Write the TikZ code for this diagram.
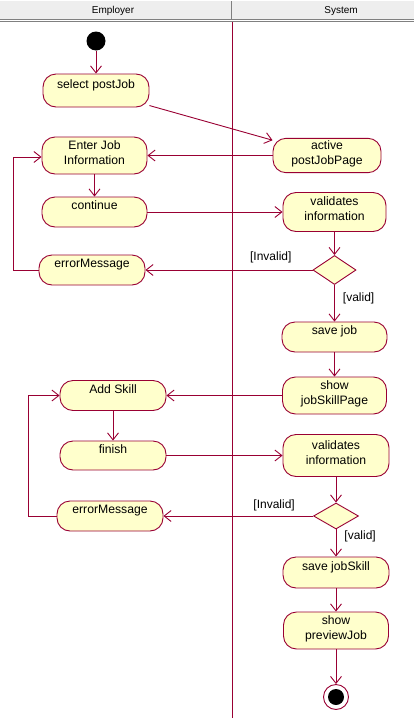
\documentclass[tikz,border=0pt]{standalone}
\usepackage{fontspec}
\setmainfont{Liberation Sans}
\usetikzlibrary{shapes.geometric, arrows.meta}
\definecolor{rosered}{HTML}{990033}
\definecolor{roseyellow}{HTML}{FFFFCC}
\definecolor{headgray}{HTML}{EEEEEE}
\definecolor{headline}{HTML}{808080}

\begin{document}
\begin{tikzpicture}[
    x=1pt, y=-1pt,
    action/.style={rectangle, draw=rosered, fill=roseyellow, line width=0.9pt, rounded corners=13pt, minimum width=105pt, minimum height=30pt, align=center, inner sep=2pt, font=\fontsize{12.2}{15}\selectfont},
    oneline/.style={text height=8.8pt, text depth=13pt},
    twoline/.style={text depth=6.5pt},
    decision/.style={diamond, draw=rosered, fill=roseyellow, line width=0.9pt, minimum width=43pt, minimum height=29pt, inner sep=0pt},
    guard/.style={inner sep=1pt, font=\fontsize{12}{14}\selectfont},
    arrow/.style={-{Straight Barb[length=7pt,width=11pt]}, draw=rosered, line width=0.9pt},
    lanehead/.style={inner sep=1pt, font=\fontsize{10}{12}\selectfont},
    ]
    \useasboundingbox (0,0) rectangle (414,718);

    % Swimlane header
    \fill[headgray] (0,1) rectangle (414,19);
    \draw[headline, line width=1pt] (0,19.5) -- (414,19.5);
    \draw[headline, line width=1pt] (0,21.5) -- (414,21.5);
    \draw[headline, line width=1pt] (231.5,1) -- (231.5,19);
    \node[lanehead] (employer) at (113,11) {Employer};
    \node[lanehead] (system) at (341,11) {System};
    \draw[rosered, line width=0.9pt] (232,22) -- (232,718);

    % Employer lane
    \node[circle, fill=black, minimum size=19pt, inner sep=0pt] (start) at (96,41) {};
    \node[action, oneline, minimum width=106pt, minimum height=33pt] (select) at (96,90.5) {select postJob};
    \node[action, twoline, minimum height=37pt] (enter) at (94.5,155.5) {Enter Job\\Information};
    \node[action, oneline] (cont) at (94.5,212) {continue};
    \node[action, oneline, minimum width=106pt] (err1) at (92,270) {errorMessage};
    \node[action, oneline, minimum width=106pt] (addskill) at (113,395.5) {Add Skill};
    \node[action, oneline, minimum width=106pt, minimum height=29pt] (finish) at (113,455.5) {finish};
    \node[action, oneline, minimum width=106pt] (err2) at (110,516) {errorMessage};

    % System lane
    \node[action, twoline, minimum width=108pt, minimum height=33pt] (active) at (327,155.5) {active\\postJobPage};
    \node[action, twoline, minimum width=103pt, minimum height=39pt] (valid1) at (334.5,212) {validates\\information};
    \node[decision] (dec1) at (334.5,270) {};
    \node[action, oneline] (savejob) at (334.5,337) {save job};
    \node[action, twoline, minimum width=104pt, minimum height=37pt] (skillpage) at (334.5,395.5) {show\\jobSkillPage};
    \node[action, twoline, minimum width=106pt, minimum height=42pt] (valid2) at (336,455.5) {validates\\information};
    \node[decision, minimum width=45pt, minimum height=26pt] (dec2) at (336,516) {};
    \node[action, oneline, minimum width=106pt, minimum height=31pt] (saveskill) at (336,572.5) {save jobSkill};
    \node[action, twoline, minimum height=37pt] (preview) at (336,630.5) {show\\previewJob};
    \node[circle, draw=rosered, fill=white, line width=0.9pt, minimum size=25pt, inner sep=0pt] (finalring) at (336,697) {};
    \node[circle, fill=black, minimum size=16pt, inner sep=0pt] (final) at (336,697) {};

    % Loop corners
    \coordinate (loop1) at (13,270);
    \coordinate (loop2) at (28,516);

    % Flow - post job
    \draw[arrow] (start) -- (select);
    \draw[arrow] (select) -- (active);
    \draw[arrow] (active) -- (enter);
    \draw[arrow] (enter) -- (cont);
    \draw[arrow] (cont) -- (valid1);
    \draw[arrow] (valid1) -- (dec1);
    \draw[arrow] (dec1) -- node[guard, above=6pt, pos=0.25] {[Invalid]} (err1);
    \draw[arrow] (err1.west) -- (loop1) |- ([yshift=-1.5pt]enter.west);
    \draw[arrow] (dec1) -- node[guard, right=7pt, pos=0.36] {[valid]} (savejob);
    \draw[arrow] (savejob) -- (skillpage);

    % Flow - job skills
    \draw[arrow] (skillpage) -- (addskill);
    \draw[arrow] (addskill) -- (finish);
    \draw[arrow] (finish) -- (valid2);
    \draw[arrow] (valid2) -- (dec2);
    \draw[arrow] (dec2) -- node[guard, above=3.5pt, pos=0.26] {[Invalid]} (err2);
    \draw[arrow] (err2.west) -- (loop2) |- (addskill.west);
    \draw[arrow] (dec2) -- node[guard, right=7pt, pos=0.25] {[valid]} (saveskill);
    \draw[arrow] (saveskill) -- (preview);
    \draw[arrow] (preview) -- (finalring);

\end{tikzpicture}
\end{document}
